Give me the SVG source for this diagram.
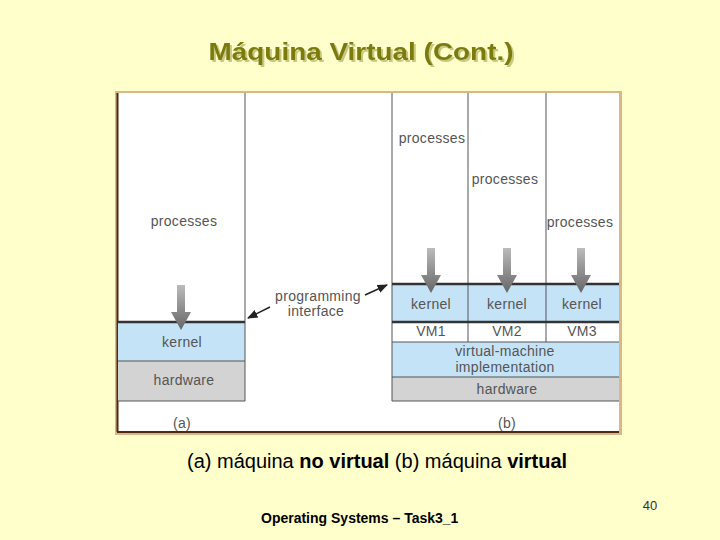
<svg xmlns="http://www.w3.org/2000/svg" width="720" height="540" viewBox="0 0 720 540">
<style>
.lbl{font-family:"Liberation Sans",Arial,sans-serif;font-size:14px;letter-spacing:0.3px;fill:#555;text-anchor:middle}
.ln{stroke:#555;stroke-width:1;fill:none}
.thick{stroke:#333;stroke-width:2.5}
.kern{fill:#c5e3f6}
.hw{fill:#d3d3d3}
</style>
<defs>
<linearGradient id="ag" x1="0" y1="0" x2="0" y2="1">
<stop offset="0" stop-color="#bbb"/><stop offset="1" stop-color="#666"/>
</linearGradient>
<symbol id="darr" overflow="visible">
<path d="M-4,0 H4 V27 H10 L0,45 L-10,27 H-4 Z" fill="url(#ag)"/>
</symbol>
<marker id="ah" viewBox="0 0 10 10" refX="9" refY="5" markerWidth="7" markerHeight="7" orient="auto-start-reverse">
<path d="M0,1 L10,5 L0,9 Z" fill="#222"/>
</marker>
<filter id="sh" x="-5%" y="-20%" width="110%" height="140%">
<feDropShadow dx="2" dy="2" stdDeviation="0.5" flood-color="#c8c880"/>
</filter>
</defs>
<rect width="720" height="540" fill="#ffffcc"/>
<text x="361" y="60" font-family="Liberation Sans,Arial,sans-serif" font-size="23" font-weight="bold" fill="#7a7a10" text-anchor="middle" textLength="305" lengthAdjust="spacingAndGlyphs" filter="url(#sh)">Máquina Virtual (Cont.)</text>
<g id="frame">
<rect x="115" y="91" width="507" height="344" fill="#d8b88a"/>
<rect x="117" y="93" width="502" height="339" fill="#fff"/>
<line x1="117.5" y1="93" x2="117.5" y2="432" stroke="#4a2a10" stroke-width="2"/>
<line x1="117" y1="432" x2="619" y2="432" stroke="#4a2a10" stroke-width="2"/>
</g>
<g id="a">
<rect x="118" y="322" width="127" height="39" class="kern"/>
<rect x="118" y="361" width="127" height="40" class="hw"/>
<line x1="245" y1="93" x2="245" y2="401" class="ln"/>
<line x1="118" y1="361" x2="245" y2="361" class="ln"/>
<line x1="118" y1="401" x2="245" y2="401" class="ln"/>
<line x1="118" y1="322" x2="245" y2="322" class="thick"/>
<use href="#darr" x="181" y="285"/>
<text x="184" y="226" class="lbl">processes</text>
<text x="182" y="347" class="lbl">kernel</text>
<text x="184" y="385" class="lbl">hardware</text>
<text x="182" y="428" class="lbl">(a)</text>
</g>
<g id="b">
<rect x="392" y="284" width="227" height="38" class="kern"/>
<rect x="392" y="342" width="227" height="35" class="kern"/>
<rect x="392" y="377" width="227" height="24" class="hw"/>
<line x1="392" y1="93" x2="392" y2="401" class="ln"/>
<line x1="468" y1="93" x2="468" y2="342" class="ln"/>
<line x1="546" y1="93" x2="546" y2="342" class="ln"/>
<line x1="392" y1="342" x2="619" y2="342" class="ln"/>
<line x1="392" y1="377" x2="619" y2="377" class="ln"/>
<line x1="392" y1="401" x2="619" y2="401" class="ln"/>
<line x1="392" y1="284" x2="619" y2="284" class="thick"/>
<line x1="392" y1="322" x2="619" y2="322" class="thick"/>
<use href="#darr" x="431" y="248"/>
<use href="#darr" x="507" y="248"/>
<use href="#darr" x="581" y="248"/>
<text x="432" y="143" class="lbl">processes</text>
<text x="505" y="184" class="lbl">processes</text>
<text x="580" y="227" class="lbl">processes</text>
<text x="431" y="309" class="lbl">kernel</text>
<text x="507" y="309" class="lbl">kernel</text>
<text x="582" y="309" class="lbl">kernel</text>
<text x="431" y="336" class="lbl" font-size="12">VM1</text>
<text x="507" y="336" class="lbl" font-size="12">VM2</text>
<text x="582" y="336" class="lbl" font-size="12">VM3</text>
<text x="505" y="356" class="lbl">virtual-machine</text>
<text x="505" y="372" class="lbl">implementation</text>
<text x="507" y="394" class="lbl">hardware</text>
<text x="507" y="428" class="lbl">(b)</text>
</g>
<g id="pi">
<text x="318" y="301" class="lbl">programming</text>
<text x="316" y="316" class="lbl">interface</text>
</g>
<g id="connectors">
<line x1="270" y1="307" x2="248" y2="318" stroke="#222" stroke-width="1.5" marker-end="url(#ah)"/>
<line x1="365" y1="295" x2="387" y2="285" stroke="#222" stroke-width="1.5" marker-end="url(#ah)"/>
</g>
<text x="187" y="468" font-family="Liberation Sans,Arial,sans-serif" font-size="20" fill="#000">(a) máquina <tspan font-weight="bold">no virtual</tspan> (b) máquina <tspan font-weight="bold">virtual</tspan></text>
<text x="261" y="523" font-family="Liberation Sans,Arial,sans-serif" font-size="14" font-weight="bold" fill="#000">Operating Systems – Task3_1</text>
<text x="650" y="510" font-family="Liberation Sans,Arial,sans-serif" font-size="13" fill="#333" text-anchor="middle">40</text>
</svg>
